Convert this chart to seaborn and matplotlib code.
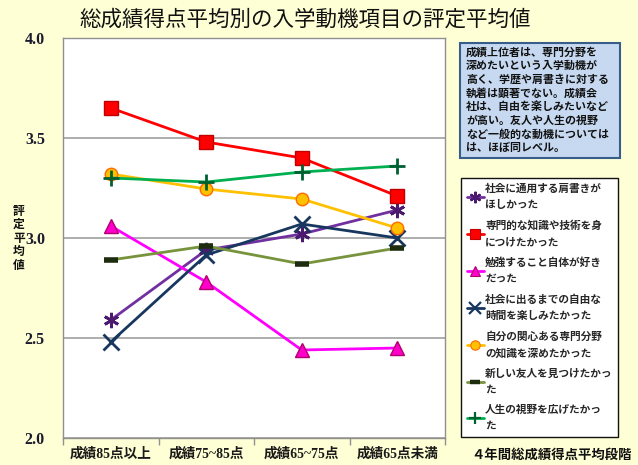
import numpy as np
import pandas as pd
import matplotlib
matplotlib.use("Agg")
import matplotlib.pyplot as plt
from matplotlib.patches import Rectangle
from matplotlib.lines import Line2D
import seaborn as sns

sns.set_theme(style="white")
plt.rcParams['font.family'] = ['Noto Sans CJK JP', 'DejaVu Sans']

# 成績段階
grades = ["成績85点以上", "成績75~85点", "成績65~75点", "成績65点未満"]

# 各入学動機項目の評定平均値
shikaku = [2.59, 2.94, 3.02, 3.14]
senmon_gijutsu = [3.65, 3.48, 3.40, 3.21]
benkyo = [3.06, 2.78, 2.44, 2.45]
jiyu = [2.48, 2.915, 3.07, 3.00]
kanshin = [3.32, 3.245, 3.195, 3.05]
yujin = [2.89, 2.96, 2.87, 2.95]
shiya = [3.30, 3.28, 3.33, 3.36]

labels = [
    "社会に通用する肩書きが\nほしかった",
    "専門的な知識や技術を身\nにつけたかった",
    "勉強すること自体が好き\nだった",
    "社会に出るまでの自由な\n時間を楽しみたかった",
    "自分の関心ある専門分野\nの知識を深めたかった",
    "新しい友人を見つけたかっ\nた",
    "人生の視野を広げたかっ\nた",
]
series = [shikaku, senmon_gijutsu, benkyo, jiyu, kanshin, yujin, shiya]

styles = [
    dict(color="#7030A0", marker=(6, 2, 0), mfc="#4B1A6E", mec="#4B1A6E", ms=11, mew=2.0),
    dict(color="#FF0000", marker="s", mfc="#FF0000", mec="#C00000", ms=10, mew=1.0),
    dict(color="#FF00FF", marker="^", mfc="#FF00CC", mec="#B0006A", ms=10, mew=1.0),
    dict(color="#17375E", marker="x", mfc="#17375E", mec="#17375E", ms=11, mew=2.0),
    dict(color="#FFC000", marker="o", mfc="#FFC000", mec="#FF6A00", ms=9, mew=1.0),
    dict(color="#77933C", marker="_", mfc="#1D2B0F", mec="#1D2B0F", ms=10, mew=4.0),
    dict(color="#00B050", marker="+", mfc="#006030", mec="#006030", ms=12, mew=2.0),
]

df = pd.DataFrame({
    "pos": np.tile(np.arange(len(grades)), len(series)),
    "value": np.concatenate(series),
    "item": np.repeat(labels, len(grades)),
})

bg = "#FFFFD5"
fig = plt.figure(figsize=(6.38, 4.65), dpi=100, facecolor=bg)
ax = fig.add_axes([63 / 638, 1 - 438 / 465, (445 - 63) / 638, 400 / 465])
ax.set_facecolor("white")

for lab, st in zip(labels, styles):
    sub = df[df["item"] == lab]
    sns.lineplot(data=sub, x="pos", y="value", ax=ax, color=st["color"], lw=2.0,
                 marker=st["marker"], markersize=st["ms"], markerfacecolor=st["mfc"],
                 markeredgecolor=st["mec"], markeredgewidth=st["mew"], legend=False,
                 zorder=3)

ax.set_xlim(-0.5, len(grades) - 0.5)
ax.set_ylim(2.0, 4.0)
ax.set_yticks([2.0, 2.5, 3.0, 3.5, 4.0])
ax.set_yticklabels(["2.0", "2.5", "3.0", "3.5", "4.0"],
                   fontfamily=["Liberation Serif"], fontweight="bold", fontsize=11.5,
                   color="#1A1A2E")
ax.tick_params(axis="y", length=0, pad=13)
ax.grid(axis="y", color="#A0A0A0", lw=1.2)
ax.set_axisbelow(True)

ax.set_xticks(range(len(grades)))
ax.set_xticklabels(grades, fontfamily=["Liberation Serif", "Noto Sans CJK JP"],
                   fontweight="bold", fontsize=9.8, color="#1A1A1A")
ax.set_xticks(np.arange(-0.5, len(grades), 1.0), minor=True)
ax.tick_params(axis="x", which="major", length=0, pad=7)
ax.tick_params(axis="x", which="minor", length=5, width=1, color="#909090",
               direction="out", bottom=True)
ax.set_xlabel("")
ax.set_ylabel("")
for s in ax.spines.values():
    s.set_color("#909090")
    s.set_linewidth(1.0)

# タイトル
fig.text(305 / 638, 1 - 20 / 465, "総成績得点平均別の入学動機項目の評定平均値",
         ha="center", va="center", fontsize=15.5, color="#111111")

# 縦書きの軸ラベル
fig.text(19 / 638, 1 - 238 / 465, "\n".join("評定平均値"), ha="center", va="center",
         fontsize=8.5, fontweight="bold", linespacing=1.05, color="#111111")

# 横軸の説明
fig.text(552 / 638, 1 - 455 / 465, "４年間総成績得点平均段階", ha="center", va="center",
         fontsize=9.6, fontweight="bold", color="#111111")

# コメント欄
fig.patches.append(Rectangle((460 / 638, 1 - 158 / 465), 160 / 638, 115 / 465,
                             transform=fig.transFigure, facecolor="#C6D9F1",
                             edgecolor="#385D8A", lw=1.5, zorder=1))
note = ("成績上位者は、専門分野を\n深めたいという入学動機が\n高く、学歴や肩書きに対する\n"
        "執着は顕著でない。成績会\n社は、自由を楽しみたいなど\nが高い。友人や人生の視野\n"
        "など一般的な動機については\nは、ほぼ同レベル。")
fig.text(466 / 638, 1 - 47 / 465, note, ha="left", va="top", fontsize=7.9,
         fontweight="bold", linespacing=1.36, color="#111111", zorder=2)

# 凡例
handles = [Line2D([], [], color=st["color"], lw=2.0, marker=st["marker"],
                  markersize=st["ms"] * 0.75, markerfacecolor=st["mfc"],
                  markeredgecolor=st["mec"], markeredgewidth=st["mew"] * 0.8)
           for st in styles]
leg = fig.legend(handles, labels, loc="upper left",
                 bbox_to_anchor=(461 / 638, 1 - 178 / 465),
                 bbox_transform=fig.transFigure, frameon=True, fancybox=False,
                 edgecolor="#111111", facecolor="white", framealpha=1,
                 prop=dict(family="Noto Sans CJK JP", weight="bold", size=7.7),
                 handlelength=1.6, handletextpad=0.1, labelspacing=0.95,
                 borderpad=0.55, borderaxespad=0)
leg.get_frame().set_linewidth(1.0)
for t in leg.get_texts():
    t.set_linespacing(1.75)

fig.savefig("out.png", dpi=100, facecolor=bg)
